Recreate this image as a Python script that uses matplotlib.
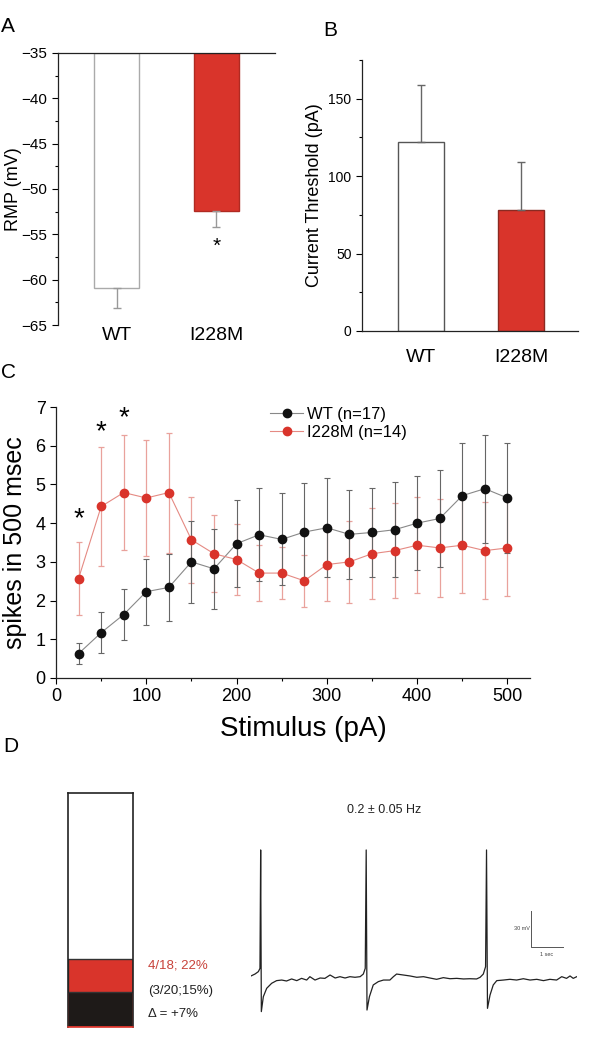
import numpy as np
import matplotlib.pyplot as plt
from matplotlib.ticker import MultipleLocator

plt.rcParams['font.family'] = ['Liberation Sans', 'DejaVu Sans']

RED = '#d9342b'

# Panel A: resting membrane potential
groups = ['WT', 'I228M']
rmp_mean = [-60.9, -52.4]
rmp_err = [2.2, 1.8]

# Panel B: current threshold
thr_mean = [122, 78]
thr_err = [37, 31]

# Panel C: spikes vs stimulus
stim = [25, 50, 75, 100, 125, 150, 175, 200, 225, 250, 275, 300, 325,
        350, 375, 400, 425, 450, 475, 500]
wt_spk = [0.63, 1.17, 1.64, 2.23, 2.34, 3.0, 2.82, 3.47, 3.70, 3.58, 3.77,
          3.88, 3.71, 3.76, 3.83, 4.0, 4.12, 4.71, 4.89, 4.65]
wt_err = [0.27, 0.53, 0.65, 0.85, 0.86, 1.05, 1.03, 1.13, 1.20, 1.19, 1.27,
          1.28, 1.14, 1.15, 1.23, 1.21, 1.24, 1.37, 1.39, 1.43]
mut_spk = [2.57, 4.43, 4.79, 4.65, 4.79, 3.57, 3.21, 3.06, 2.71, 2.71, 2.51,
           2.93, 3.0, 3.21, 3.29, 3.43, 3.36, 3.43, 3.29, 3.36]
mut_err = [0.94, 1.54, 1.49, 1.51, 1.55, 1.11, 0.99, 0.91, 0.72, 0.68, 0.67,
           0.95, 1.06, 1.18, 1.22, 1.24, 1.26, 1.24, 1.26, 1.23]
star_x = [25, 50, 75]
star_y = [4.1, 6.35, 6.72]

# Panel D: fraction of spontaneously firing cells (box %) and example trace
wt_pct = 15
mut_seg = 14
trace_t = [0, 0.125, 0.23, 0.28, 0.302, 0.323, 0.385, 0.49, 0.646, 0.80, 0.96,
           1.11, 1.27, 1.43, 1.58, 1.74, 1.84, 2.0, 2.16, 2.31, 2.47, 2.63,
           2.78, 2.94, 3.09, 3.25, 3.41, 3.51, 3.57, 3.60, 3.625, 3.70, 3.82,
           3.98, 4.14, 4.34, 4.45, 4.55, 4.76, 4.97, 5.18, 5.39, 5.59, 5.80,
           6.01, 6.22, 6.43, 6.64, 6.84, 7.05, 7.16, 7.26, 7.33, 7.36, 7.39,
           7.47, 7.57, 7.68, 7.89, 8.09, 8.30, 8.51, 8.72, 8.93, 9.14, 9.34,
           9.55, 9.71, 9.86, 9.97, 10.07, 10.18]
trace_v = [-58.3, -56.7, -54.7, -52, 46.7, -88, -75.6, -68.6, -64.4, -62.2,
           -61.7, -62.5, -60.8, -62.2, -60.3, -61.7, -58.9, -61.7, -60, -60.3,
           -57.5, -60, -58.9, -60, -58.9, -59.4, -58.9, -56.7, -52, 46.7,
           -86.7, -75.6, -65.8, -63, -61.7, -61.7, -58.9, -56.7, -57.5, -58.3,
           -59.4, -58.9, -60, -61.1, -59.7, -60.6, -60.3, -60.8, -60.6, -60.8,
           -59.4, -56.7, -50.6, 46.7, -85.3, -74.2, -65.8, -62.2, -61.7, -61.1,
           -61.7, -60.6, -61.7, -61.1, -62.2, -61.1, -61.7, -58.9, -60.3,
           -58.3, -60.3, -58.9]

W, H = 600, 1051
fig = plt.figure(figsize=(W / 100, H / 100), dpi=100)


def box(l, t, r, b):
    return [l / W, 1 - b / H, (r - l) / W, (b - t) / H]


def style(ax):
    ax.tick_params(which='both', direction='out', width=0.8)
    ax.tick_params(which='major', length=4)
    ax.tick_params(which='minor', length=2.5)
    for s in ax.spines.values():
        s.set_linewidth(0.9)
        s.set_color('#222222')


# ---- A ----
axA = fig.add_axes(box(58, 53, 275, 325))
x = np.arange(2)
axA.bar(x, np.array(rmp_mean) + 35, bottom=-35, width=0.45,
        color=['white', RED], edgecolor=['#aaaaaa', '#b02a22'], linewidth=1)
axA.errorbar(x, rmp_mean, yerr=[rmp_err, [0, 0]], fmt='none', ecolor='#999999',
             elinewidth=1, capsize=3)
axA.set_xlim(-0.59, 1.59)
axA.set_ylim(-65, -35)
axA.yaxis.set_major_locator(MultipleLocator(5))
axA.yaxis.set_minor_locator(MultipleLocator(2.5))
axA.set_xticks([])
for s in ['right', 'bottom']:
    axA.spines[s].set_visible(False)
style(axA)
axA.tick_params(labelsize=11)
axA.set_ylabel('RMP (mV)', fontsize=13)
axA.yaxis.set_label_coords(-36 / 217, 0.5)
for xi, g in zip(x, groups):
    axA.text(xi, -66.2, g, ha='center', va='center', fontsize=14)
axA.text(1, -56.3, '*', ha='center', va='center', fontsize=15)

# ---- B ----
axB = fig.add_axes(box(362, 60, 578, 331))
axB.bar(x, thr_mean, width=0.46, color=['white', RED],
        edgecolor=['#555555', '#8a2a22'], linewidth=1)
axB.errorbar(x, thr_mean, yerr=[[0, 0], thr_err], fmt='none', ecolor='#666666',
             elinewidth=1, capsize=3)
axB.set_xlim(-0.59, 1.57)
axB.set_ylim(0, 175)
axB.yaxis.set_major_locator(MultipleLocator(50))
axB.yaxis.set_minor_locator(MultipleLocator(25))
axB.set_xticks([])
for s in ['right', 'top']:
    axB.spines[s].set_visible(False)
style(axB)
axB.tick_params(labelsize=10)
axB.set_ylabel('Current Threshold (pA)', fontsize=13)
axB.yaxis.set_label_coords(-39 / 216, 0.5)
for xi, g in zip(x, groups):
    axB.text(xi, -17, g, ha='center', va='center', fontsize=14)

# ---- C ----
axC = fig.add_axes(box(56, 407, 530, 678))
axC.errorbar(stim, mut_spk, yerr=mut_err, fmt='none', ecolor='#e9a29c',
             elinewidth=0.9, capsize=2.5, capthick=0.9)
axC.errorbar(stim, wt_spk, yerr=wt_err, fmt='none', ecolor='#666666',
             elinewidth=0.8, capsize=2.5, capthick=0.8)
axC.plot(stim, wt_spk, '-', color='#888888', lw=0.8, marker='o', ms=6,
         mfc='#111111', mec='#111111', label='WT (n=17)')
axC.plot(stim, mut_spk, '-', color='#e58a83', lw=0.8, marker='o', ms=6,
         mfc=RED, mec=RED, label='I228M (n=14)')
for sx, sy in zip(star_x, star_y):
    axC.text(sx, sy, '*', ha='center', va='center', fontsize=20)
axC.set_xlim(0, 525)
axC.set_ylim(0, 7)
axC.xaxis.set_major_locator(MultipleLocator(100))
axC.xaxis.set_minor_locator(MultipleLocator(50))
axC.yaxis.set_major_locator(MultipleLocator(1))
for s in ['right', 'top']:
    axC.spines[s].set_visible(False)
style(axC)
axC.tick_params(labelsize=13)
axC.set_ylabel('spikes in 500 msec', fontsize=18, labelpad=6)
axC.set_xlabel('Stimulus (pA)', fontsize=20)
axC.xaxis.set_label_coords((303 - 56) / 474, -38 / 271)
axC.legend(loc='upper left', bbox_to_anchor=(270 / W, 1 - 407 / H),
           bbox_transform=fig.transFigure, frameon=False, fontsize=12,
           handlelength=2.0, handletextpad=0.2, labelspacing=0.15,
           borderpad=0, borderaxespad=0)

# ---- D ----
axD = fig.add_axes(box(68, 793, 133, 1027))
axD.bar(0, wt_pct, width=1, color='#1e1a18', edgecolor=RED, linewidth=1.2)
axD.bar(0, mut_seg, bottom=wt_pct, width=1, color=RED, edgecolor='#333333',
        linewidth=1)
axD.set_xlim(-0.5, 0.5)
axD.set_ylim(0, 100)
axD.set_xticks([])
axD.set_yticks([])
for s in axD.spines.values():
    s.set_linewidth(1.2)
    s.set_color('#222222')
axD.spines['bottom'].set_color(RED)
fig.text(148 / W, 1 - 966 / H, '4/18; 22%', color='#c8423a', fontsize=9.5,
         va='center')
fig.text(148 / W, 1 - 991 / H, '(3/20;15%)', color='#222222', fontsize=9.5,
         va='center')
fig.text(148 / W, 1 - 1014 / H, '\u0394 = +7%', color='#222222', fontsize=9.5,
         va='center')

axT = fig.add_axes(box(251, 840, 577, 1020))
axT.plot(trace_t, trace_v, color='#222222', lw=0.9)
axT.plot([8.75, 8.75, 9.75], [-4.2, -34.2, -34.2], color='#555555', lw=0.7)
axT.text(8.7, -19, '30 mV', fontsize=4, ha='right', va='center', color='#444444')
axT.text(9.25, -38, '1 sec', fontsize=4, ha='center', va='top', color='#444444')
axT.set_xlim(0, 10.1875)
axT.set_ylim(-95, 55)
axT.axis('off')
fig.text(384 / W, 1 - 810 / H, '0.2 \u00b1 0.05 Hz', fontsize=9, ha='center',
         va='center', color='#222222')

# panel letters
for lab, lx, ly in [('A', 1, 26), ('B', 323, 31), ('C', 1, 372), ('D', 3, 746)]:
    fig.text(lx / W, 1 - ly / H, lab, fontsize=15, va='center', ha='left')

fig.savefig('out.png', dpi=100)
